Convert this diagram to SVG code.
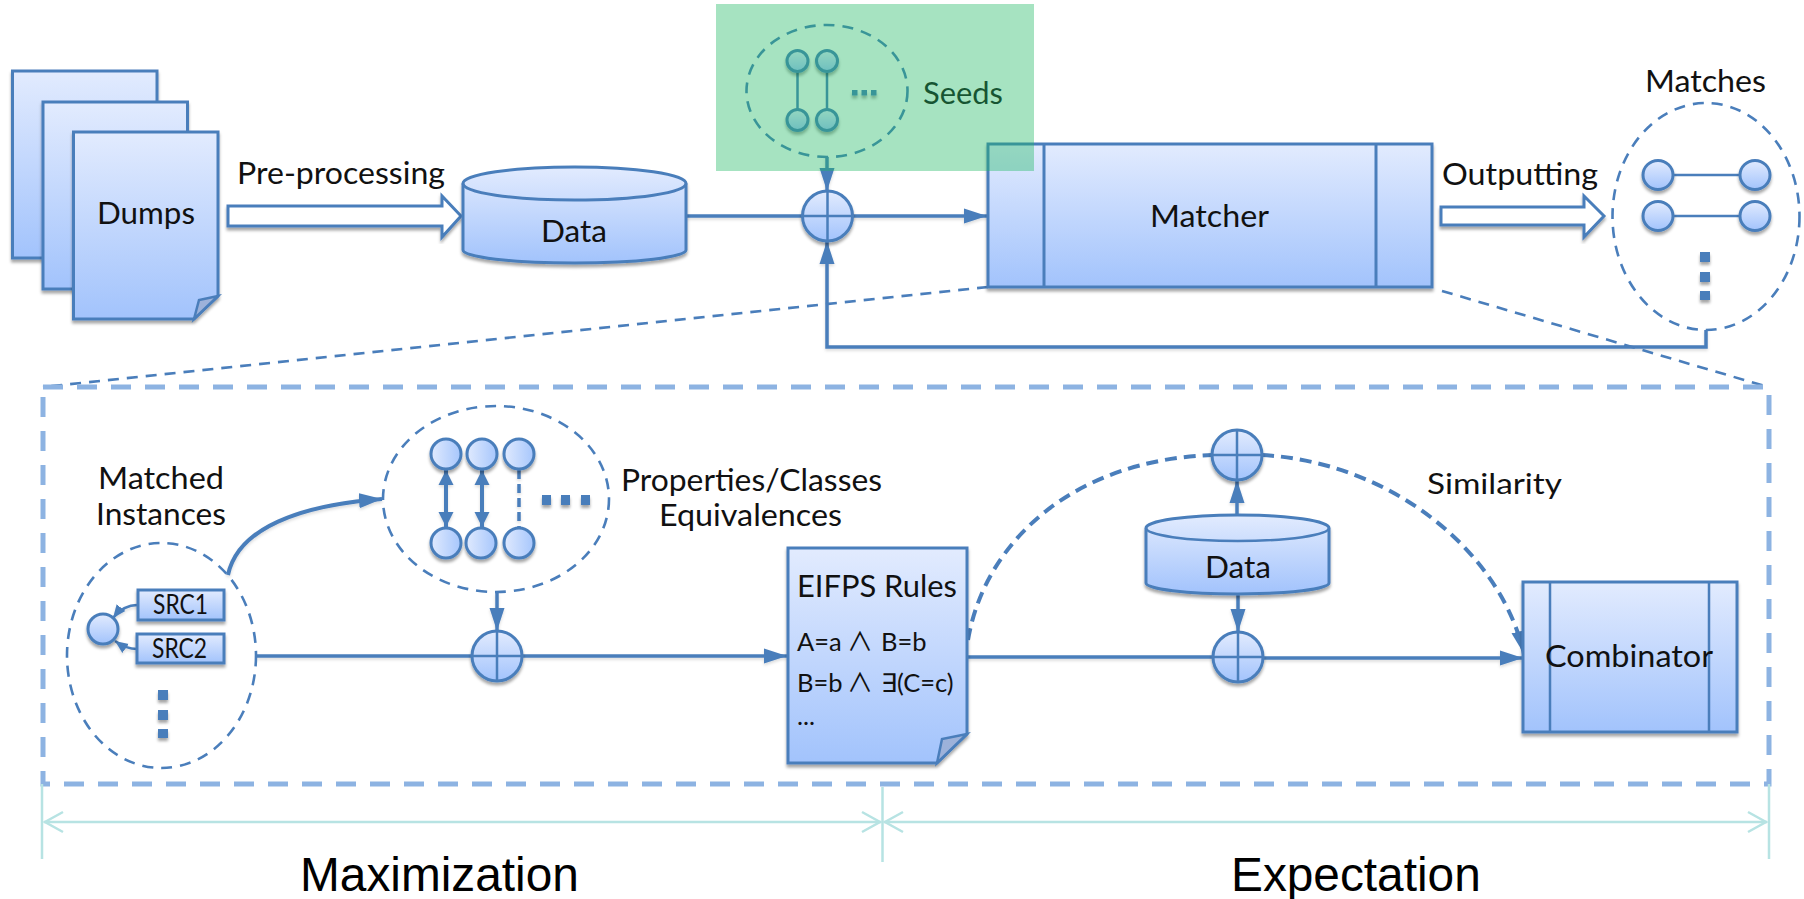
<svg xmlns="http://www.w3.org/2000/svg" width="1804" height="899" viewBox="0 0 1804 899">
<style>
text{font-family:"Lato","Liberation Sans",sans-serif;font-size:30px;fill:#111}
.ar{font-family:"Liberation Sans",Arial,sans-serif;font-size:47.8px;fill:#000}
.dj{font-family:"DejaVu Sans",sans-serif}
.cj{font-family:"Noto Sans CJK SC",sans-serif}
.box{fill:url(#g);stroke:#4a7ebb;stroke-width:3;stroke-linejoin:miter}
.thin{stroke:#4a7ebb;stroke-width:2.5;fill:none}
.dash{fill:none;stroke:#4a7ebb;stroke-width:2.6;stroke-dasharray:11 8}
.ln{fill:none;stroke:#4a7ebb;stroke-width:3.5}
.big{stroke:#4a7ebb;stroke-width:4;fill:none}
.hc{fill:url(#gh);stroke:#4a7ebb;stroke-width:3}
.dot{fill:#4a7ebb}
.cy{stroke:#b7e3e3;stroke-width:2.5;fill:none}
.out{fill:#fff;stroke:#4a7ebb;stroke-width:3}
.sh{filter:url(#s)}
.shl{filter:url(#sl)}
</style>
<defs>
<linearGradient id="g" x1="0" y1="0" x2="0" y2="1"><stop offset="0" stop-color="#e2ebfe"/><stop offset="1" stop-color="#a2c3fc"/></linearGradient>
<linearGradient id="gh" x1="0" y1="0" x2="1" y2="0"><stop offset="0" stop-color="#e0eafe"/><stop offset="1" stop-color="#a6c6fc"/></linearGradient>
<filter id="s" x="-10%" y="-10%" width="125%" height="125%"><feDropShadow dx="0" dy="3" stdDeviation="1.8" flood-color="#000" flood-opacity="0.35"/></filter>
<filter id="sl" filterUnits="userSpaceOnUse" x="0" y="0" width="1804" height="899"><feDropShadow dx="0" dy="2" stdDeviation="1.5" flood-color="#000" flood-opacity="0.14"/></filter>
<marker id="a" markerUnits="userSpaceOnUse" markerWidth="24" markerHeight="16" refX="23" refY="8" orient="auto-start-reverse"><path d="M0,0.5 L23,8 L0,15.5 Z" fill="#4a7ebb"/></marker>
<marker id="am" markerUnits="userSpaceOnUse" markerWidth="16" markerHeight="16" refX="15" refY="8" orient="auto-start-reverse"><path d="M0,0.5 L15,8 L0,15.5 Z" fill="#4a7ebb"/></marker>
<marker id="as" markerUnits="userSpaceOnUse" markerWidth="14" markerHeight="12" refX="13" refY="6" orient="auto"><path d="M0,0.5 L13,6 L0,11.5 Z" fill="#4a7ebb"/></marker>
<marker id="c" markerUnits="userSpaceOnUse" markerWidth="22" markerHeight="24" refX="20" refY="12" orient="auto-start-reverse"><path d="M1,2 L19,12 L1,22" fill="none" stroke="#b7e3e3" stroke-width="2.5"/></marker>
</defs>

<g id="connectors">
<path class="out sh" d="M228,206 H442 V196 L461,216 L442,237 V226 H228 Z"/>
<path class="out sh" d="M1441,207 H1584 V196 L1604,216 L1584,237 V225 H1441 Z"/>
<g class="shl">
<path class="ln" d="M686,216 H802"/>
<path class="ln" marker-end="url(#a)" d="M852,216 H987"/>
<path class="ln" marker-end="url(#a)" d="M827,157 V191"/>
<path class="ln" marker-end="url(#a)" d="M1706,330 V347 H827 V241"/>
<path class="ln" d="M257,656 H472"/>
<path class="ln" marker-end="url(#a)" d="M522,656 H787"/>
<path class="ln" marker-end="url(#a)" d="M497,593 V631"/>
<path class="big" marker-end="url(#a)" d="M228,575 C238,528 300,505 382,499"/>
<path class="ln" stroke-width="2.5" style="stroke-width:2.5" marker-end="url(#as)" d="M138,605 C128,605 120,609 113,618"/>
<path class="ln" style="stroke-width:2.5" marker-end="url(#as)" d="M137,649 C128,649 122,646 115,641"/>
<path class="big" marker-start="url(#am)" marker-end="url(#am)" d="M446,470 V527"/>
<path class="big" marker-start="url(#am)" marker-end="url(#am)" d="M482,470 V527"/>
<path class="ln" stroke-dasharray="9 5" d="M519,470 V528"/>
<path class="ln" d="M967,657 H1213"/>
<path class="ln" marker-end="url(#a)" d="M1263,658 H1523"/>
<path class="ln" marker-end="url(#a)" d="M1237,515 V480"/>
<path class="ln" marker-end="url(#a)" d="M1238,594 V632"/>
</g>
<path class="big" stroke-dasharray="12 7" d="M968,640 C985,540 1075,460 1212,455"/>
<path class="big" stroke-dasharray="12 7" marker-end="url(#a)" d="M1262,455 C1390,462 1500,550 1524,654"/>
<path class="dash" d="M988,287 L43,387"/>
<path class="dash" d="M1442,291 L1768,387"/>
<rect x="43" y="387" width="1726" height="397" fill="none" stroke="#8db3e2" stroke-width="5" stroke-dasharray="20 14"/>
<path class="cy" d="M42,784 V859 M882.5,787 V862 M1769,784 V859"/>
<path class="cy" marker-start="url(#c)" marker-end="url(#c)" d="M44,822 H881"/>
<path class="cy" marker-start="url(#c)" marker-end="url(#c)" d="M884,822 H1767"/>
</g>

<g id="dumps">
<rect class="box sh" x="12.5" y="71" width="144.5" height="187"/>
<rect class="box sh" x="43" y="102" width="144.5" height="187"/>
<path class="box sh" d="M73.5,132 H218 V296 L194,319 H73.5 Z"/>
<path d="M218,296 L199,300 L194,319 Z" fill="#9db2da" stroke="#4a7ebb" stroke-width="2.5"/>
<text x="97" y="224" style="font-size:31px" textLength="98" lengthAdjust="spacingAndGlyphs">Dumps</text>
</g>
<text id="pre-label" x="237" y="184" style="font-size:31px" textLength="208" lengthAdjust="spacingAndGlyphs">Pre-processing</text>

<g id="data">
<path class="box sh" d="M463,183.5 A111.5,16.5 0 0 1 686,183.5 V250 A111.5,13 0 0 1 463,250 Z"/>
<path class="thin" d="M463,183.5 A111.5,16.5 0 0 0 686,183.5" style="stroke-width:3"/>
<text x="541" y="242" style="font-size:31px" textLength="66" lengthAdjust="spacingAndGlyphs">Data</text>
</g>

<g id="plus-main" class="sh">
<circle class="box" cx="827.5" cy="216" r="25"/>
<path class="thin" d="M802.5,216 H852.5 M827.5,191 V241"/>
</g>

<g id="seeds">
<ellipse class="dash" cx="827" cy="91" rx="80.5" ry="66"/>
<path class="thin" d="M797.5,61 V120 M827,61 V120"/>
<g class="sh">
<circle class="box" cx="797.5" cy="61" r="10.5"/>
<circle class="box" cx="827" cy="61" r="10.5"/>
<circle class="box" cx="797.5" cy="120" r="10.5"/>
<circle class="box" cx="827" cy="120" r="10.5"/>
<rect class="dot" x="852" y="90" width="5.5" height="5.5"/>
<rect class="dot" x="861.5" y="90" width="5.5" height="5.5"/>
<rect class="dot" x="871" y="90" width="5.5" height="5.5"/>
</g>
<text x="923" y="104" style="font-size:31px" textLength="80" lengthAdjust="spacingAndGlyphs">Seeds</text>
</g>

<g id="matcher">
<rect class="box sh" x="988" y="144" width="444" height="143"/>
<path class="thin" style="stroke-width:3" d="M1044,144 V287 M1376,144 V287"/>
<text x="1150" y="227" style="font-size:31px" textLength="119" lengthAdjust="spacingAndGlyphs">Matcher</text>
</g>

<rect id="seeds-highlight" x="716" y="4" width="318" height="167" fill="#21b964" fill-opacity="0.4"/>

<text id="outputting-label" x="1442" y="185" style="font-size:31px" textLength="156" lengthAdjust="spacingAndGlyphs">Outputting</text>

<g id="matches">
<text x="1645" y="92" style="font-size:31px" textLength="121" lengthAdjust="spacingAndGlyphs">Matches</text>
<ellipse class="dash" cx="1706" cy="216.5" rx="93.5" ry="113.5"/>
<path class="thin" d="M1658,175 H1755 M1658,216 H1755"/>
<g class="sh">
<ellipse class="box" cx="1658" cy="175" rx="15" ry="14.5"/>
<ellipse class="box" cx="1755" cy="175" rx="15" ry="14.5"/>
<ellipse class="box" cx="1658" cy="216" rx="15" ry="14.5"/>
<ellipse class="box" cx="1755" cy="216" rx="15" ry="14.5"/>
<rect class="dot" x="1700" y="252" width="10" height="10"/>
<rect class="dot" x="1700" y="272" width="10" height="10"/>
<rect class="dot" x="1700" y="291" width="10" height="9"/>
</g>
</g>

<g id="matched-instances">
<text x="98" y="489" style="font-size:31px" textLength="126" lengthAdjust="spacingAndGlyphs">Matched</text>
<text x="96" y="525" style="font-size:31px" textLength="130" lengthAdjust="spacingAndGlyphs">Instances</text>
<ellipse class="dash" cx="161.5" cy="655.5" rx="94.5" ry="112.5"/>
<g class="sh">
<rect class="box" x="138" y="590" width="86" height="30"/>
<rect class="box" x="137" y="634" width="87" height="29"/>
<circle class="box" cx="103" cy="629" r="15"/>
<rect class="dot" x="158" y="690" width="10" height="10"/>
<rect class="dot" x="158" y="710" width="10" height="10"/>
<rect class="dot" x="158" y="729" width="10" height="9"/>
</g>
<text x="153" y="614" style="font-size:26px" textLength="55" lengthAdjust="spacingAndGlyphs">SRC1</text>
<text x="152" y="658" style="font-size:26px" textLength="55" lengthAdjust="spacingAndGlyphs">SRC2</text>
</g>

<g id="equivalences">
<ellipse class="dash" cx="496" cy="499" rx="113" ry="93"/>
<g class="sh">
<circle class="hc" cx="446" cy="454" r="15"/>
<circle class="hc" cx="482" cy="454" r="15"/>
<circle class="hc" cx="519" cy="454" r="15"/>
<circle class="hc" cx="446" cy="543" r="15"/>
<circle class="hc" cx="481" cy="543" r="15"/>
<circle class="hc" cx="519" cy="543" r="15"/>
<rect class="dot" x="542" y="495" width="9" height="10"/>
<rect class="dot" x="561" y="495" width="9" height="10"/>
<rect class="dot" x="581" y="495" width="9" height="10"/>
</g>
<text x="621" y="491" style="font-size:31px" textLength="261" lengthAdjust="spacingAndGlyphs">Properties/Classes</text>
<text x="659" y="526" style="font-size:31px" textLength="183" lengthAdjust="spacingAndGlyphs">Equivalences</text>
</g>

<g id="plus-max" class="sh">
<circle class="box" cx="497" cy="656" r="25"/>
<path class="thin" d="M472,656 H522 M497,631 V681"/>
</g>

<g id="rules">
<path class="box sh" d="M788,548 H967 V734 L937,763 H788 Z"/>
<path d="M967,734 L942,739 L937,763 Z" fill="#9db2da" stroke="#4a7ebb" stroke-width="2.5"/>
<text x="797" y="597" style="font-size:31px" textLength="160" lengthAdjust="spacingAndGlyphs">EIFPS Rules</text>
<text x="797" y="651" style="font-size:25.5px">A=a<tspan class="cj" x="847" style="font-size:26px">∧</tspan><tspan x="881">B=b</tspan></text>
<text x="797" y="692" style="font-size:25.5px">B=b<tspan class="cj" x="847" style="font-size:26px">∧</tspan><tspan class="dj" x="881">∃</tspan><tspan x="897">(C=c)</tspan></text>
<text x="797" y="725" style="font-size:25.5px">...</text>
</g>

<g id="plus-sim" class="sh">
<circle class="box" cx="1237" cy="455" r="25"/>
<path class="thin" d="M1212,455 H1262 M1237,430 V480"/>
</g>
<text id="similarity-label" x="1427" y="494" style="font-size:29px" textLength="135" lengthAdjust="spacingAndGlyphs">Similarity</text>

<g id="data2">
<path class="box sh" d="M1146,528 A91.5,13 0 0 1 1329,528 V583 A91.5,11 0 0 1 1146,583 Z"/>
<path class="thin" d="M1146,528 A91.5,13 0 0 0 1329,528"/>
<text x="1205" y="578" style="font-size:31px" textLength="66" lengthAdjust="spacingAndGlyphs">Data</text>
</g>

<g id="plus-exp" class="sh">
<circle class="box" cx="1238" cy="657" r="25"/>
<path class="thin" d="M1213,657 H1263 M1238,632 V682"/>
</g>

<g id="combinator">
<rect class="box sh" x="1523" y="582" width="214" height="150"/>
<path class="thin" d="M1550,582 V732 M1709,582 V732"/>
<text x="1545" y="667" style="font-size:31px" textLength="168" lengthAdjust="spacingAndGlyphs">Combinator</text>
</g>

<text class="ar" x="300" y="890.5">Maximization</text>
<text class="ar" x="1231" y="890.5">Expectation</text>
</svg>
